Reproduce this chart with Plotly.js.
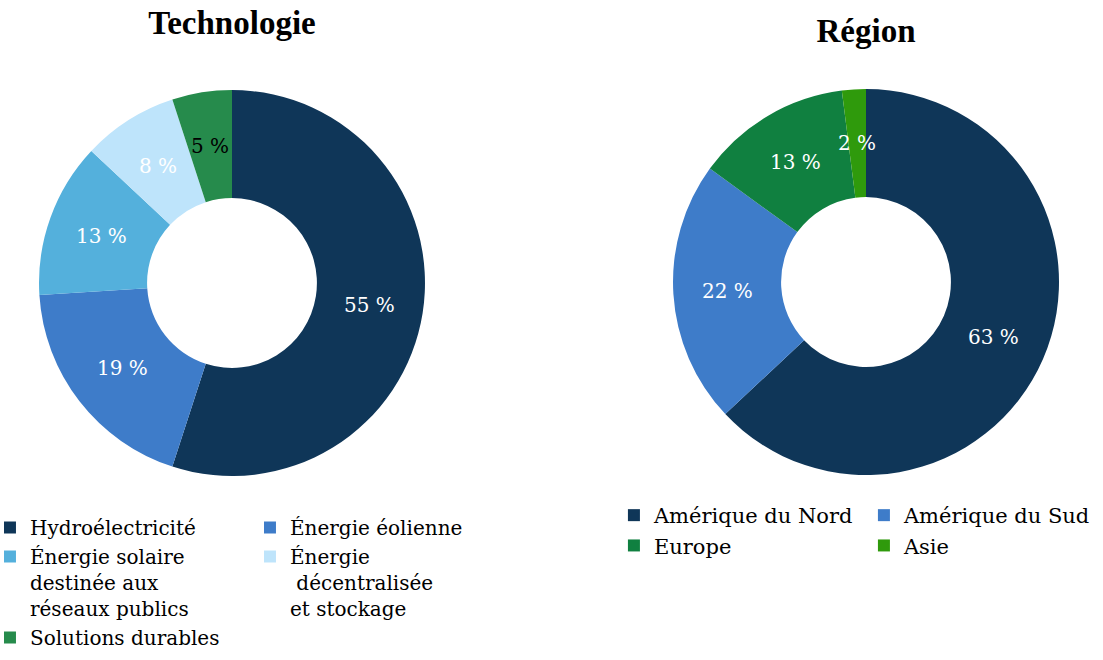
<!DOCTYPE html>
<html>
<head>
<meta charset="utf-8">
<script src="https://cdn.plot.ly/plotly-3.0.1.min.js"></script>
<style>
  html, body { margin: 0; padding: 0; background: #ffffff; }
  #wrap { position: relative; width: 1103px; height: 660px; overflow: hidden; }
  #left { position: absolute; left: 0; top: 0; width: 551px; height: 660px; }
  #right { position: absolute; left: 551px; top: 0; width: 551px; height: 660px; }
</style>
</head>
<body>
<div id="wrap">
  <div id="left"></div>
  <div id="right"></div>
</div>
<script>
// ---- Data ----
const techTitle = "Technologie";
const techLabels = [
  "Hydroélectricité",
  "Énergie éolienne",
  "Énergie solaire<br>destinée aux<br>réseaux publics",
  "Énergie<br>\u00a0décentralisée<br>et stockage",
  "Solutions durables"
];
const techValues = [55, 19, 13, 8, 5];
const techColors = ["#0f3658", "#3e7cc9", "#54b0dc", "#bee4fb", "#268b4c"];
const techTextColors = ["#ffffff", "#ffffff", "#ffffff", "#ffffff", "#000000"];

const regionTitle = "Région";
const regionLabels = ["Amérique du Nord", "Amérique du Sud", "Europe", "Asie"];
const regionValues = [63, 22, 13, 2];
const regionColors = ["#0f3658", "#3e7cc9", "#108040", "#2f9a0c"];
const regionTextColors = ["#ffffff", "#ffffff", "#ffffff", "#ffffff"];

const TITLE_FONT = "Liberation Serif";
const FONT = "DejaVu Serif";
const W = 551, H = 660, MB = 160;
const PH = H - MB; // plot-area height
const HOLE = 0.44;

function pieTrace(labels, values, colors, domain) {
  return {
    type: "pie",
    labels: labels,
    values: values,
    sort: false,
    direction: "clockwise",
    rotation: 0,
    hole: HOLE,
    domain: domain,
    marker: { colors: colors, line: { width: 0 } },
    textinfo: "none",
    hoverinfo: "label+value"
  };
}

// value labels placed at the middle of each ring slice, derived from the data
function sliceLabels(values, textColors, domain) {
  const total = values.reduce((a, b) => a + b, 0);
  const cx = (domain.x[0] + domain.x[1]) / 2 * W;
  const cy = (1 - (domain.y[0] + domain.y[1]) / 2) * PH;
  const R = Math.min((domain.x[1] - domain.x[0]) * W, (domain.y[1] - domain.y[0]) * PH) / 2;
  const r = R * (1 + HOLE) / 2;
  let cum = 0;
  return values.map((v, i) => {
    const mid = (cum + v / 2) / total;
    cum += v;
    const th = 2 * Math.PI * mid;
    const px = cx + r * Math.sin(th);
    const py = cy - r * Math.cos(th);
    return {
      xref: "paper", yref: "paper",
      x: px / W, y: (PH - py) / PH,
      xanchor: "center", yanchor: "middle",
      text: v + " %",
      showarrow: false,
      font: { family: FONT, size: 20, color: textColors[i] }
    };
  });
}

function layoutFor(title, titleX, titleY, legendX, legendY, entryWidth, legendSize, annotations) {
  return {
    width: W,
    height: H,
    margin: { l: 0, r: 0, t: 0, b: MB, autoexpand: false },
    paper_bgcolor: "rgba(0,0,0,0)",
    plot_bgcolor: "rgba(0,0,0,0)",
    font: { family: FONT, color: "#000000" },
    title: {
      text: "<b>" + title + "</b>",
      font: { family: TITLE_FONT, size: 33, color: "#000000" },
      x: titleX, xanchor: "center", xref: "container",
      y: titleY, yanchor: "middle", yref: "container"
    },
    annotations: annotations,
    showlegend: true,
    legend: {
      orientation: "h",
      x: legendX, xanchor: "left",
      y: legendY, yanchor: "top",
      valign: "top",
      entrywidth: entryWidth, entrywidthmode: "pixels",
      font: { family: FONT, size: legendSize, color: "#000000" },
      bgcolor: "rgba(0,0,0,0)",
      traceorder: "normal"
    }
  };
}

const techDomain = { x: [0.0708, 0.7713], y: [0.048, 0.82] };
const regionDomain = { x: [0.2214, 0.922], y: [0.05, 0.822] };

Plotly.newPlot("left",
  [pieTrace(techLabels, techValues, techColors, techDomain)],
  layoutFor(techTitle, 0.421, 0.9667, -0.0182, -0.016, 215, 20,
    sliceLabels(techValues, techTextColors, techDomain)),
  { displayModeBar: false, staticPlot: true }
);
Plotly.newPlot("right",
  [pieTrace(regionLabels, regionValues, regionColors, regionDomain)],
  layoutFor(regionTitle, 0.5717, 0.9545, 0.1142, 0.01, 205, 21,
    sliceLabels(regionValues, regionTextColors, regionDomain)),
  { displayModeBar: false, staticPlot: true }
);
</script>
</body>
</html>
